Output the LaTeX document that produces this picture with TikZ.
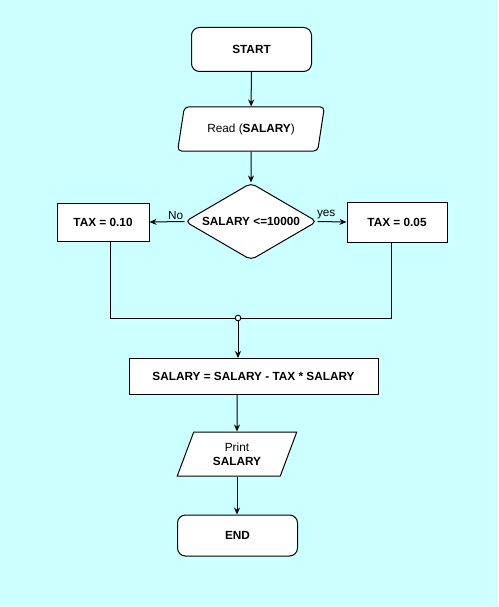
\documentclass[tikz,border=0pt]{standalone}
\usepackage{fontspec}
\setmainfont{Liberation Sans}
\usetikzlibrary{shapes.geometric,arrows.meta}
\definecolor{bgcyan}{RGB}{204,255,255}
\newcommand{\chartfont}{\fontsize{11.8}{14}\selectfont}
\tikzset{
    term/.style={draw, fill=white, rounded corners=8pt, minimum width=120pt, minimum height=44pt, inner sep=0pt, font=\chartfont\bfseries},
    iobox/.style={draw, fill=white, trapezium, trapezium left angle=68, trapezium right angle=112, trapezium stretches=true, minimum height=44pt, inner sep=0pt, align=center},
    procbox/.style={draw, fill=white, minimum height=38pt, inner sep=0pt, font=\chartfont\bfseries},
    decbox/.style={draw, fill=white, diamond, shape aspect=1.7, rounded corners=5pt, minimum width=132pt, minimum height=77pt, inner sep=0pt, font=\chartfont\bfseries},
    flow/.style={-{Stealth[length=7pt,width=6pt]}},
}
\begin{document}
\begin{tikzpicture}[x=1pt, y=-1pt, line width=1pt, font=\chartfont]
                    % Background
                    \fill [bgcyan] (0,0) rectangle (498,607);
                    % Nodes
                    \node [term] (start) at (251.5,49.5) {START};
                    \node [iobox, rounded corners=4pt, minimum width=148pt] (read) at (251,129) {Read (\textbf{SALARY})};
                    \node [decbox] (test) at (251,221.5) {SALARY <=10000};
                    \node [procbox, minimum width=92pt] (taxlow) at (103,222) {TAX = 0.10};
                    \node [procbox, minimum width=100pt, minimum height=40pt] (taxhigh) at (397,222) {TAX = 0.05};
                    \node [procbox, minimum width=249pt, minimum height=36pt] (calc) at (253.5,376.5) {SALARY = SALARY - TAX * SALARY};
                    \node [iobox, minimum width=120pt] (print) at (237,454) {Print\\\textbf{SALARY}};
                    \node [term, minimum height=41pt] (stop) at (237.5,535.5) {END};
                    \coordinate (lcorner) at (110,318);
                    \coordinate (rcorner) at (391,318);
                    \coordinate (join) at (238,318);
                    % Arrows
                    \draw [flow] (start) -- (read);
                    \draw [flow] (read) -- (test);
                    \draw [flow] (test.west) -- node [above, pos=0.25, inner sep=2pt] {No} (taxlow.east);
                    \draw [flow] (test.east) -- node [above, pos=0.3, inner sep=2pt] {yes} (taxhigh.west);
                    \draw (taxlow.south -| lcorner) -- (lcorner) -- (rcorner) -- (taxhigh.south -| rcorner);
                    \draw [flow] (join) -- (calc.north -| join);
                    \draw [fill=white, line width=0.9pt] (join) circle (2.8pt);
                    \draw [flow] (calc.south -| print) -- (print.north);
                    \draw [flow] (print.south) -- (stop.north -| print.south);
                \end{tikzpicture}
\end{document}
